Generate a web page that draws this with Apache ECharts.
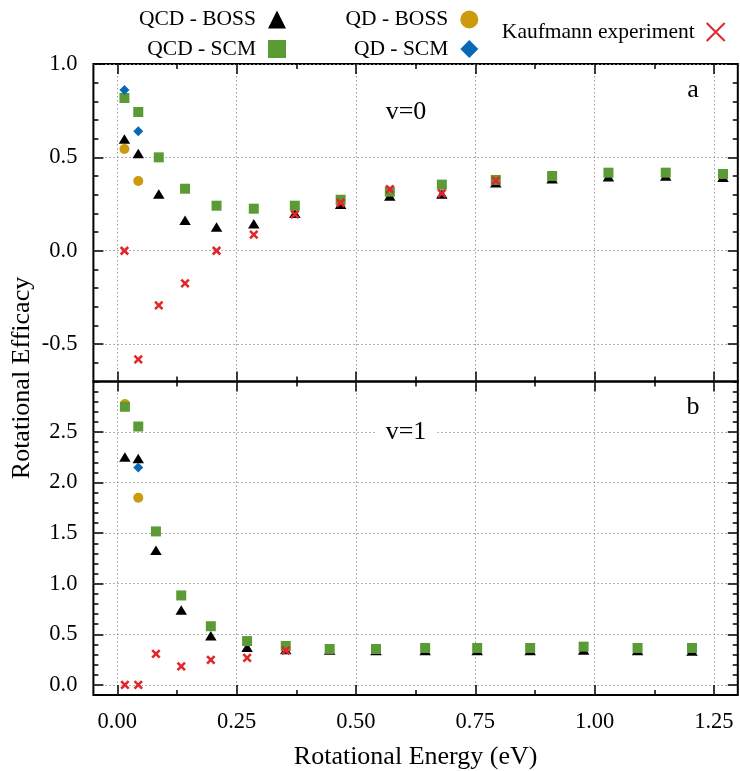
<!DOCTYPE html>
<html><head><meta charset="utf-8">
<script src="https://cdn.jsdelivr.net/npm/echarts@6/dist/echarts.min.js"></script>
<style>html,body{margin:0;padding:0;background:#fff}#c{width:740px;height:771px}</style>
</head><body><div id="c"></div>
<script>
// ---- Panel a (v=0) ----
const energyA   = [0.015,0.044,0.087,0.142,0.208,0.286,0.372,0.468,0.571,0.680,0.793,0.911,1.029,1.149,1.269];
const qcdBossA  = [0.598,0.520,0.304,0.163,0.127,0.145,0.200,0.249,0.293,0.304,0.364,0.386,0.396,0.400,0.393];
const qcdScmA   = [0.818,0.743,0.500,0.332,0.241,0.225,0.241,0.273,0.316,0.354,0.379,0.400,0.418,0.418,0.411];
const qdEnergyA = [0.015,0.044];
const qdBossA   = [0.545,0.373];
const qdScmA    = [0.861,0.640];
const expEnergyA = [0.015,0.044,0.087,0.142,0.208,0.286,0.372,0.468,0.571,0.680,0.793];
const expA       = [0.000,-0.582,-0.293,-0.175,0.000,0.086,0.195,0.257,0.330,0.307,0.375];
// ---- Panel b (v=1) ----
const energyB   = [0.016,0.044,0.081,0.134,0.196,0.272,0.353,0.445,0.542,0.645,0.754,0.865,0.977,1.090,1.204];
const qcdBossB  = [2.253,2.238,1.331,0.741,0.486,0.372,0.350,0.345,0.340,0.340,0.340,0.340,0.345,0.340,0.335];
const qcdScmB   = [2.749,2.554,1.517,0.884,0.580,0.433,0.385,0.355,0.355,0.365,0.365,0.365,0.378,0.365,0.365];
const qdEnergyB = [0.016,0.044];
const qdBossB   = [2.776,1.849];
const qdScmEnergyB = [0.044];
const qdScmB    = [2.150];
const expEnergyB = [0.016,0.044,0.081,0.134,0.196,0.272,0.353];
const expB       = [0.000,0.000,0.306,0.183,0.248,0.267,0.340];
// ---- ticks ----
const xMajorTicks = [0,0.25,0.5,0.75,1.0,1.25];
const xMinorTicks = [0,0.125,0.25,0.375,0.5,0.625,0.75,0.875,1.0,1.125,1.25];
const yMajorA = [-0.5,0,0.5,1.0];
const yMajorB = [0,0.5,1.0,1.5,2.0,2.5];

const FONT = '"Liberation Serif","Times New Roman",serif';
const TICKFS = 22.5;
const C_BOSS = '#000000', C_SCM = '#5b9b35', C_QDB = '#cc9a0c', C_QDS = '#0868b8', C_EXP = '#e3262b';
const CROSS = 'path://M0,0L10,10M10,0L0,10';

function pairs(xs, ys){ return ys.map((v,i)=>[xs[i], v]); }

const grids = [
  {left:93.4, width:644.4, top:64, height:317.4},
  {left:93.4, width:644.4, top:381.4, height:316.6}
].map(g=>Object.assign(g,{show:true, borderColor:'#000', borderWidth:2, backgroundColor:'transparent'}));

const gridLine = {show:true, lineStyle:{color:'#9a9a9a', width:1, type:[1.5,2.5]}};
const xAxes = [], yAxes = [];
function addX(gi, pos, major, labels){
  xAxes.push({
    gridIndex:gi, type:'value', min:-0.05, max:1.30, position:pos,
    axisLine:{show:false, onZero:false},
    axisTick:{show:true, inside:true, length: major?10:5, customValues: major?xMajorTicks:xMinorTicks, lineStyle:{color:'#000', width:1.5}},
    axisLabel:{show:!!labels, customValues:xMajorTicks, formatter:v=>v.toFixed(2), fontFamily:FONT, fontSize:TICKFS, color:'#000', margin:16},
    splitLine: (major && pos==='bottom') ? gridLine : {show:false},
    name: labels ? 'Rotational Energy (eV)' : '', nameLocation:'middle', nameGap:49,
    nameTextStyle:{fontFamily:FONT, fontSize:26, color:'#000'}
  });
}
function addY(gi, pos, major, min, max, majors, labels){
  const ax = {
    gridIndex:gi, type:'value', min:min, max:max, position:pos,
    axisLine:{show:false, onZero:false},
    axisLabel:{show:!!labels, customValues:majors, formatter:v=>v.toFixed(1), fontFamily:FONT, fontSize:TICKFS, color:'#000', margin:16},
    splitLine: (major && pos==='left') ? gridLine : {show:false}
  };
  if (major) ax.axisTick = {show:true, inside:true, length:10, customValues:majors, lineStyle:{color:'#000', width:1.5}};
  else { ax.interval = 0.1; ax.axisTick = {show:true, inside:true, length:5, lineStyle:{color:'#000', width:1.5}}; }
  yAxes.push(ax);
}
// panel a
addX(0,'bottom',false); addX(0,'bottom',true); addX(0,'top',false); addX(0,'top',true);
// panel b
addX(1,'bottom',false); addX(1,'bottom',true,true); addX(1,'top',false); addX(1,'top',true);
addY(0,'left',false,-0.7,1.0,yMajorA); addY(0,'left',true,-0.7,1.0,yMajorA,true);
addY(0,'right',false,-0.7,1.0,yMajorA); addY(0,'right',true,-0.7,1.0,yMajorA);
addY(1,'left',false,-0.1,3.0,yMajorB); addY(1,'left',true,-0.1,3.0,yMajorB,true);
addY(1,'right',false,-0.1,3.0,yMajorB); addY(1,'right',true,-0.1,3.0,yMajorB);

function sc(name, data, xi, yi, symbol, size, color, z, extra){
  return Object.assign({
    type:'scatter', name:name, data:data, xAxisIndex:xi, yAxisIndex:yi,
    symbol:symbol, symbolSize:size, z:z,
    itemStyle:{color:color, opacity:1}, emphasis:{disabled:true}, animation:false
  }, extra||{});
}
const crossStyle = {itemStyle:{color:'rgba(0,0,0,0)', borderColor:C_EXP, borderWidth:2.6, opacity:1}};
const TRI = [11.5,9.5];
const series = [
  sc('QCD - BOSS', pairs(energyA,qcdBossA), 1,1,'triangle',TRI,C_BOSS,2),
  sc('QD - BOSS',  pairs(qdEnergyA,qdBossA),1,1,'circle',10,C_QDB,3),
  sc('QCD - SCM',  pairs(energyA,qcdScmA),  1,1,'rect',10,C_SCM,4),
  sc('QD - SCM',   pairs(qdEnergyA,qdScmA), 1,1,'diamond',10,C_QDS,5),
  sc('Kaufmann experiment', pairs(expEnergyA,expA),1,1,CROSS,7.5,C_EXP,6,crossStyle),
  sc('QCD - BOSS', pairs(energyB,qcdBossB), 5,5,'triangle',TRI,C_BOSS,2),
  sc('QD - BOSS',  pairs(qdEnergyB,qdBossB),5,5,'circle',10,C_QDB,3),
  sc('QCD - SCM',  pairs(energyB,qcdScmB),  5,5,'rect',10,C_SCM,4),
  sc('QD - SCM',   pairs(qdScmEnergyB,qdScmB),5,5,'diamond',10,C_QDS,5),
  sc('Kaufmann experiment', pairs(expEnergyB,expB),5,5,CROSS,7.5,C_EXP,6,crossStyle)
];

const legTxt = {fontFamily:FONT, fontSize:21.5, color:'#000', padding:[0,7,0,0]};
const legBase = {orient:'vertical', align:'right', itemWidth:18, itemHeight:18, itemGap:7.5, textStyle:legTxt, selectedMode:false, padding:0};
const legend = [
  Object.assign({data:['QCD - BOSS','QCD - SCM'], right:454, top:8.5}, legBase),
  Object.assign({data:['QD - BOSS','QD - SCM'], right:261.7, top:8.5}, legBase),
  Object.assign({data:[{name:'Kaufmann experiment', itemStyle:{borderWidth:2}}], right:14.3, top:21}, legBase)
];

const txt = (t, x, y, fs, extra) => ({type:'text', x:x, y:y, z:50, style:Object.assign({text:t, font:fs+'px '+FONT, fill:'#000', textAlign:'center', textVerticalAlign:'middle'}, extra||{})});
const graphic = [
  Object.assign(txt('Rotational Efficacy', 22, 378, 26), {rotation:Math.PI/2}),
  txt('v=0', 406, 112, 26),
  txt('v=1', 406, 432, 26, {backgroundColor:'#fff', padding:[4,10]}),
  txt('a', 693, 90, 26),
  txt('b', 693, 407, 26)
];

const chart = echarts.init(document.getElementById('c'), null, {renderer:'canvas'});
chart.setOption({animation:false, backgroundColor:'#fff', grid:grids, xAxis:xAxes, yAxis:yAxes, series:series, legend:legend, graphic:graphic});
</script></body></html>
